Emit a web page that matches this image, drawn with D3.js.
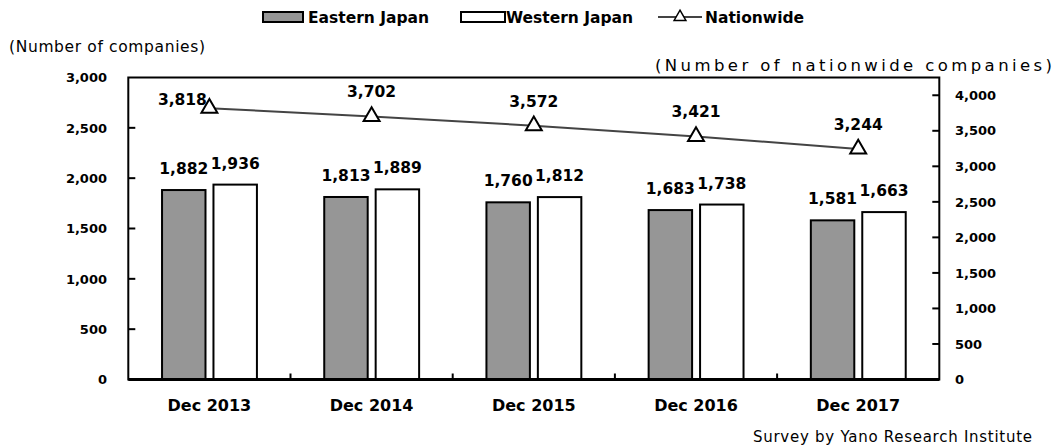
<!DOCTYPE html>
<html>
<head>
<meta charset="utf-8">
<script src="https://cdn.jsdelivr.net/npm/d3@7"></script>
<style>
	body{margin:0;background:#fff;}
	svg text{font-family:"DejaVu Sans",sans-serif;fill:#000;}
</style>
</head>
<body>
<div id="chart"></div>
<script>
/* data */
var categories = ["Dec 2013","Dec 2014","Dec 2015","Dec 2016","Dec 2017"];
var seriesNames = ["Eastern Japan","Western Japan"];
var eastern = [1882,1813,1760,1683,1581];
var western = [1936,1889,1812,1738,1663];
var nationwide = [3818,3702,3572,3421,3244];
var leftTicks = [0,500,1000,1500,2000,2500,3000];
var rightTicks = [0,500,1000,1500,2000,2500,3000,3500,4000];

(function(){
var W = 1056, H = 448;
var pLeft = 128.3, pRight = 939.3, pTop = 77.5, pBottom = 379.5;

var svg = d3.select("#chart").append("svg").attr("width",W).attr("height",H);

var x0 = d3.scaleBand().domain(categories).range([pLeft,pRight]);
var bw = x0.bandwidth();
var x1 = d3.scaleBand().domain(seriesNames).range([bw*0.208, bw*0.793]).paddingInner(0.155);
var yL = d3.scaleLinear().domain([0,3000]).range([pBottom,pTop]);
var yR = d3.scaleLinear().domain([0,4250]).range([pBottom,pTop]);

var fmt = d3.format(",");

// bars
var rows = categories.map(function(c,i){ return {cat:c, vals:[eastern[i],western[i]]}; });
var grp = svg.append("g").selectAll("g").data(rows).enter().append("g")
	.attr("transform",function(d){ return "translate("+x0(d.cat)+",0)"; });
grp.selectAll("rect").data(function(d){ return d.vals.map(function(v,j){ return {s:seriesNames[j],v:v}; }); })
	.enter().append("rect")
	.attr("x",function(d){ return x1(d.s); })
	.attr("y",function(d){ return yL(d.v); })
	.attr("width",x1.bandwidth())
	.attr("height",function(d){ return pBottom-yL(d.v); })
	.attr("fill",function(d){ return d.s==seriesNames[0] ? "#969696" : "#fff"; })
	.attr("stroke","#000").attr("stroke-width",2);
grp.selectAll("text").data(function(d){ return d.vals.map(function(v,j){ return {s:seriesNames[j],v:v}; }); })
	.enter().append("text")
	.attr("x",function(d){ return x1(d.s)+x1.bandwidth()/2; })
	.attr("y",function(d){ return yL(d.v)-16; })
	.attr("text-anchor","middle")
	.style("font-size","15.5px").style("font-weight","bold")
	.text(function(d){ return fmt(d.v); });

// frame
svg.append("rect").attr("x",pLeft).attr("y",pTop).attr("width",pRight-pLeft).attr("height",pBottom-pTop)
	.attr("fill","none").attr("stroke","#000").attr("stroke-width",2);
svg.append("line").attr("x1",pLeft).attr("x2",pRight).attr("y1",pBottom).attr("y2",pBottom)
	.attr("stroke","#000").attr("stroke-width",3);

// left axis
var axL = svg.append("g");
axL.selectAll("line").data(leftTicks.slice(1,-1)).enter().append("line")
	.attr("x1",pLeft).attr("x2",pLeft+7).attr("y1",yL).attr("y2",yL)
	.attr("stroke","#000").attr("stroke-width",2);
axL.selectAll("text").data(leftTicks).enter().append("text")
	.attr("x",107).attr("y",function(d){ return yL(d); }).attr("dy","0.36em")
	.attr("text-anchor","end").style("font-size","13px").style("font-weight","bold")
	.text(fmt);

// right axis
var axR = svg.append("g");
axR.selectAll("line").data(rightTicks.slice(1)).enter().append("line")
	.attr("x1",pRight-7).attr("x2",pRight).attr("y1",yR).attr("y2",yR)
	.attr("stroke","#000").attr("stroke-width",2);
axR.selectAll("text").data(rightTicks).enter().append("text")
	.attr("x",955).attr("y",function(d){ return yR(d); }).attr("dy","0.36em")
	.attr("text-anchor","start").style("font-size","13px").style("font-weight","bold")
	.text(fmt);

// category ticks + labels
svg.append("g").selectAll("line").data(categories.slice(1)).enter().append("line")
	.attr("x1",function(d){ return x0(d); }).attr("x2",function(d){ return x0(d); })
	.attr("y1",pBottom).attr("y2",pBottom-6).attr("stroke","#000").attr("stroke-width",2);
svg.append("g").selectAll("text").data(categories).enter().append("text")
	.attr("x",function(d){ return x0(d)+bw/2; }).attr("y",411)
	.attr("text-anchor","middle").style("font-size","16px").style("font-weight","bold")
	.text(function(d){ return d; });

// nationwide line
var pts = categories.map(function(c,i){ return {x:x0(c)+bw/2, y:yR(nationwide[i]), v:nationwide[i], i:i}; });
svg.append("path").datum(pts)
	.attr("d",d3.line().x(function(d){ return d.x; }).y(function(d){ return d.y; }))
	.attr("fill","none").attr("stroke","#444").attr("stroke-width",2);
var tri = d3.symbol().type(d3.symbolTriangle).size(110);
svg.append("g").selectAll("path").data(pts).enter().append("path")
	.attr("d",tri).attr("transform",function(d){ return "translate("+d.x+","+d.y+")"; })
	.attr("fill","#fff").attr("stroke","#000").attr("stroke-width",2);
svg.append("g").selectAll("text").data(pts).enter().append("text")
	.attr("x",function(d){ return d.i==0 ? d.x-27 : d.x; })
	.attr("y",function(d){ return d.i==0 ? d.y-3 : d.y-19; })
	.attr("text-anchor","middle").style("font-size","15.5px").style("font-weight","bold")
	.text(function(d){ return fmt(d.v); });

// axis titles + source
svg.append("text").attr("x",9).attr("y",52).style("font-size","15.5px")
	.attr("textLength",196).attr("lengthAdjust","spacing").text("(Number of companies)");
svg.append("text").attr("x",655).attr("y",71).style("font-size","16.5px")
	.attr("textLength",397).attr("lengthAdjust","spacing").text("(Number of nationwide companies)");
svg.append("text").attr("x",753).attr("y",442).style("font-size","15px")
	.attr("textLength",279).attr("lengthAdjust","spacing").text("Survey by Yano Research Institute");

// legend
var lg = svg.append("g");
lg.append("rect").attr("x",263).attr("y",12).attr("width",40).attr("height",10)
	.attr("fill","#969696").attr("stroke","#000").attr("stroke-width",2);
lg.append("text").attr("x",308).attr("y",23).style("font-size","15.5px").style("font-weight","bold").text(seriesNames[0]);
lg.append("rect").attr("x",461).attr("y",12).attr("width",44).attr("height",10)
	.attr("fill","#fff").attr("stroke","#000").attr("stroke-width",2);
lg.append("text").attr("x",506).attr("y",23).style("font-size","15.5px").style("font-weight","bold").text(seriesNames[1]);
lg.append("line").attr("x1",658).attr("x2",702).attr("y1",17).attr("y2",17).attr("stroke","#444").attr("stroke-width",2);
lg.append("path").attr("d",d3.symbol().type(d3.symbolTriangle).size(60)).attr("transform","translate(680,17)")
	.attr("fill","#fff").attr("stroke","#000").attr("stroke-width",1.5);
lg.append("text").attr("x",705).attr("y",23).style("font-size","15.5px").style("font-weight","bold").text("Nationwide");
})();
</script>
</body>
</html>
